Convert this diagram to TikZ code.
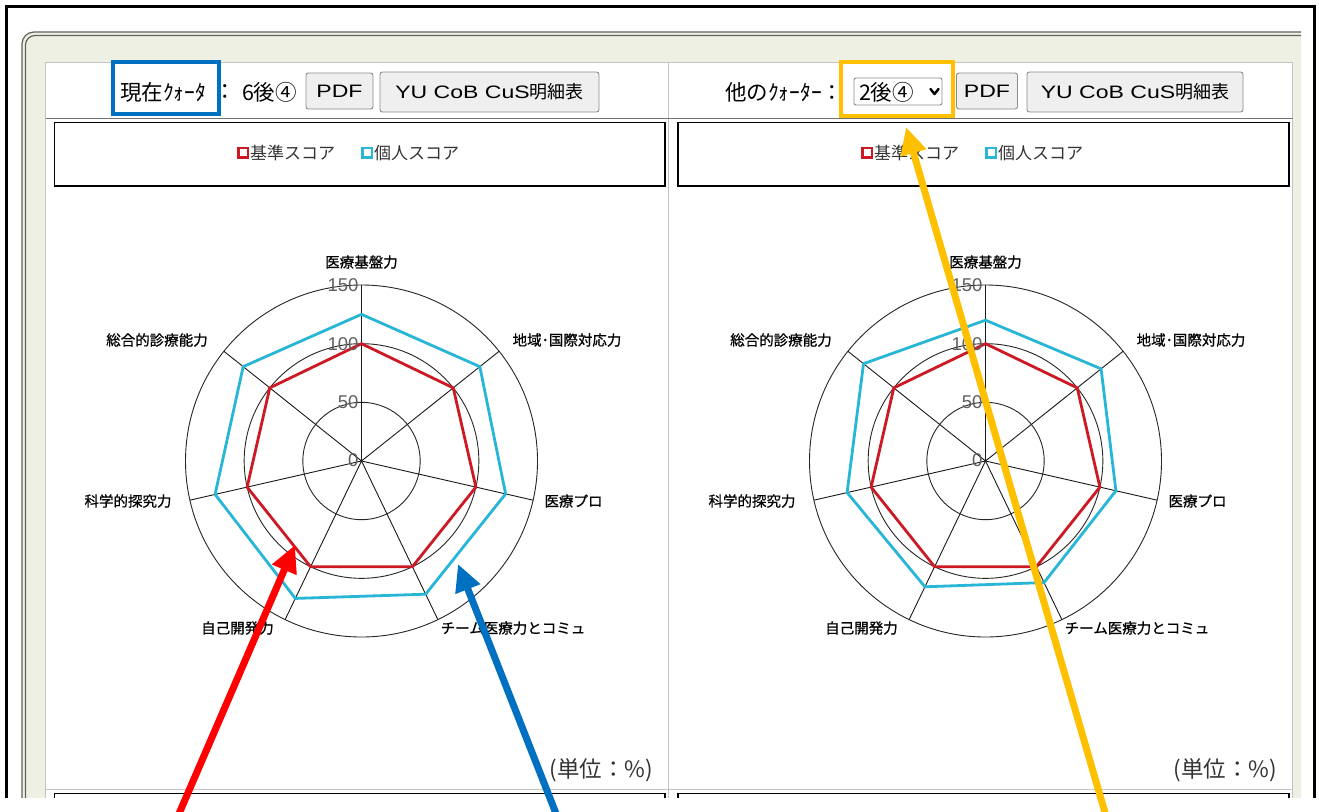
\documentclass[tikz,border=0pt]{standalone}
\usepackage{fontspec}
\setmainfont{Liberation Sans}
\newfontfamily\jp{Noto Sans CJK JP}
\newfontfamily\jpb[FakeBold=0.8]{Noto Sans CJK JP}
\usetikzlibrary{arrows.meta}
\definecolor{panelbg}{RGB}{237,240,226}
\definecolor{paneledge}{RGB}{95,100,95}
\definecolor{cellgray}{RGB}{195,195,195}
\definecolor{btnfill}{RGB}{239,239,239}
\definecolor{btnedge}{RGB}{140,140,140}
\definecolor{hlblue}{RGB}{0,112,192}
\definecolor{hlyellow}{RGB}{255,192,0}
\definecolor{arrred}{RGB}{255,0,0}
\definecolor{basered}{RGB}{205,25,35}
\definecolor{indcyan}{RGB}{40,182,215}
\definecolor{ticktext}{RGB}{95,95,95}
\newcommand\hdrfont{\jp\fontsize{21.5}{21.5}\selectfont}
\newcommand\btnlatin[1]{\scalebox{1.28}[1]{\fontsize{18}{18}\selectfont #1}}
\newcommand\lblfont{\jpb\fontsize{14.5}{14.5}\selectfont}
\newcommand\legfont{\jp\fontsize{17}{17}\selectfont}
\newcommand\tickfont{\fontsize{18.5}{18.5}\selectfont}
\begin{document}
\begin{tikzpicture}[x=1pt,y=-1pt,
  txt/.style={inner sep=0pt, outer sep=0pt},
  btn/.style={draw=btnedge, fill=btnfill, rounded corners=2.5pt, line width=0.9pt, inner sep=0pt},
  ring/.style={draw=black!85, line width=0.9pt},
  axisline/.style={draw=black!90, line width=0.9pt},
  baseline/.style={draw=basered, line width=2.8pt, line join=round},
  indline/.style={draw=indcyan, line width=2.8pt, line join=round},
  callout/.style={line width=7pt, -{Triangle[length=27pt,width=25pt]}},
  legbox/.style={draw=black, line width=1.1pt},
  lbl/.style={txt, font=\lblfont},
  tick/.style={txt, font=\tickfont, text=ticktext, anchor=east}
]
\useasboundingbox (0,0) rectangle (1319,811);
\fill[white] (0,0) rectangle (1319,811);
% outer frame
\draw[line width=3pt] (6.5,798) -- (6.5,6.5) -- (1314,6.5) -- (1314,798);
% panel
\fill[panelbg] (22,798) -- (22,44) arc[start angle=180,end angle=270,radius=12] -- (1301,32) -- (1301,798) -- cycle;
\draw[paneledge, line width=1.2pt] (22,798) -- (22,44) arc[start angle=180,end angle=270,radius=12] -- (1301,32);
\draw[paneledge, line width=1.2pt] (25.5,798) -- (25.5,45) arc[start angle=180,end angle=270,radius=9.5] -- (1301,35.5);
% table cells
\fill[white] (45,62) rectangle (1293,798);
\draw[cellgray, line width=1pt] (45.5,798) -- (45.5,62.5) -- (1292.5,62.5) -- (1292.5,798);
\draw[cellgray, line width=1pt] (668.5,62.5) -- (668.5,798);
\draw[black!55, line width=1pt] (45.5,118.5) -- (1292.5,118.5);
\draw[cellgray, line width=1pt] (45.5,789.5) -- (1292.5,789.5);
% legend boxes
\draw[legbox] (54.5,122.5) rectangle (665,186);
\draw[legbox] (678,122.5) rectangle (1289,186);
\draw[legbox] (54.5,798) -- (54.5,793.5) -- (665,793.5) -- (665,798);
\draw[legbox] (678,798) -- (678,793.5) -- (1289,793.5) -- (1289,798);

% ---------- left header ----------
\node[txt, anchor=west, font=\hdrfont] (curlbl) at (120,92) {現在ｸｫｰﾀ};
\node[txt, font=\hdrfont] (curcolon) at (225,92) {：};
\node[txt, anchor=west, font=\hdrfont] (curval) at (242,92) {6後④};
\node[btn, minimum width=67pt, minimum height=36pt] (pdfL) at (339.5,91) {\btnlatin{PDF}};
\node[btn, minimum width=219pt, minimum height=40pt] (yuL) at (489.5,92) {\btnlatin{YU CoB CuS}{\jp\fontsize{18}{18}\selectfont 明細表}};
\draw[hlblue, line width=4pt] (113,62) rectangle (219,114);

% ---------- right header ----------
\node[txt, anchor=west, font=\hdrfont] (othlbl) at (725,92) {他のｸｫｰﾀｰ：};
\node[draw=btnedge, fill=white, rounded corners=2pt, line width=0.9pt, minimum width=88pt, minimum height=27pt, inner sep=0pt] (sel) at (898,91.5) {};
\node[txt, anchor=west, font=\hdrfont] (selval) at (859,92) {2後④};
\draw[black, line width=2.4pt, line cap=round, line join=round] (930.5,89) -- (934.5,94) -- (938.5,89);
\node[btn, minimum width=61pt, minimum height=36pt] (pdfR) at (987,91) {\btnlatin{PDF}};
\node[btn, minimum width=216pt, minimum height=40pt] (yuR) at (1135,92) {\btnlatin{YU CoB CuS}{\jp\fontsize{18}{18}\selectfont 明細表}};
\draw[hlyellow, line width=4pt] (841,62) rectangle (953,116);

% ---------- legends ----------
\foreach \dx/\nm in {0/L,624/R}{
  \begin{scope}[xshift=\dx]
  \draw[basered, line width=2.8pt] (238.5,148) rectangle (248,157.5);
  \node[txt, anchor=west, font=\legfont, text=black!80] (leg-base-\nm) at (250,153) {基準スコア};
  \draw[indcyan, line width=2.8pt] (362.5,148) rectangle (372,157.5);
  \node[txt, anchor=west, font=\legfont, text=black!80] (leg-ind-\nm) at (374,153) {個人スコア};
  \node[txt, anchor=east, font=\jp\fontsize{22.5}{22.5}\selectfont, text=black!80] (unit-\nm) at (653,770) {(単位：\%)};
  \end{scope}
}

% ---------- radar charts ----------
\def\k{1.17333}
\foreach \cx/\nm/\vals in {361.5/L/{125,129,126,126,130,128,129},985.5/R/{120,126,114,115,119,121,133}}{
  \begin{scope}[shift={(\cx,461)}]
    \draw[ring] (0,0) circle[radius=58.67];
    \draw[ring] (0,0) circle[radius=117.33];
    \draw[ring] (0,0) circle[radius=176];
    \foreach \i in {0,...,6}{
      \draw[axisline] (0,0) -- ({\i*360/7-90}:176);
      \coordinate (\nm-r\i) at ({\i*360/7-90}:117.33);
    }
    \foreach \v [count=\j from 0] in \vals {
      \coordinate (\nm-b\j) at ({\j*360/7-90}:{\v*\k});
    }
    \draw[baseline] (\nm-r0) -- (\nm-r1) -- (\nm-r2) -- (\nm-r3) -- (\nm-r4) -- (\nm-r5) -- (\nm-r6) -- cycle;
    \draw[indline] (\nm-b0) -- (\nm-b1) -- (\nm-b2) -- (\nm-b3) -- (\nm-b4) -- (\nm-b5) -- (\nm-b6) -- cycle;
    \node[tick] (\nm-t150) at (-3,-176) {150};
    \node[tick] (\nm-t100) at (-3,-117.33) {100};
    \node[tick] (\nm-t50) at (-3,-58.67) {50};
    \node[tick] (\nm-t0) at (-3,-1) {0};
    \node[lbl] (\nm-a0) at (0,-199) {医療基盤力};
    \node[lbl] (\nm-a1) at (205.5,-121) {地域･国際対応力};
    \node[lbl] (\nm-a2) at (212,40) {医療プロ};
    \node[lbl] (\nm-a3) at (151.5,167) {チーム医療力とコミュ};
    \node[lbl] (\nm-a4) at (-124,167) {自己開発力};
    \node[lbl] (\nm-a5) at (-233.5,40) {科学的探究力};
    \node[lbl] (\nm-a6) at (-204.5,-121) {総合的診療能力};
  \end{scope}
}

% white strip below cut-off screenshot
\fill[white] (0,798) rectangle (1319,811);

% ---------- callout arrows ----------
\coordinate (redtail) at (178,816);
\coordinate (redtip) at (295,545);
\coordinate (bluetail) at (557,816);
\coordinate (bluetip) at (458,564);
\coordinate (yeltail) at (1106,816);
\coordinate (yeltip) at (906,127);
\draw[callout, arrred] (redtail) -- (redtip);
\draw[callout, hlblue] (bluetail) -- (bluetip);
\draw[callout, hlyellow] (yeltail) -- (yeltip);
\end{tikzpicture}
\end{document}
